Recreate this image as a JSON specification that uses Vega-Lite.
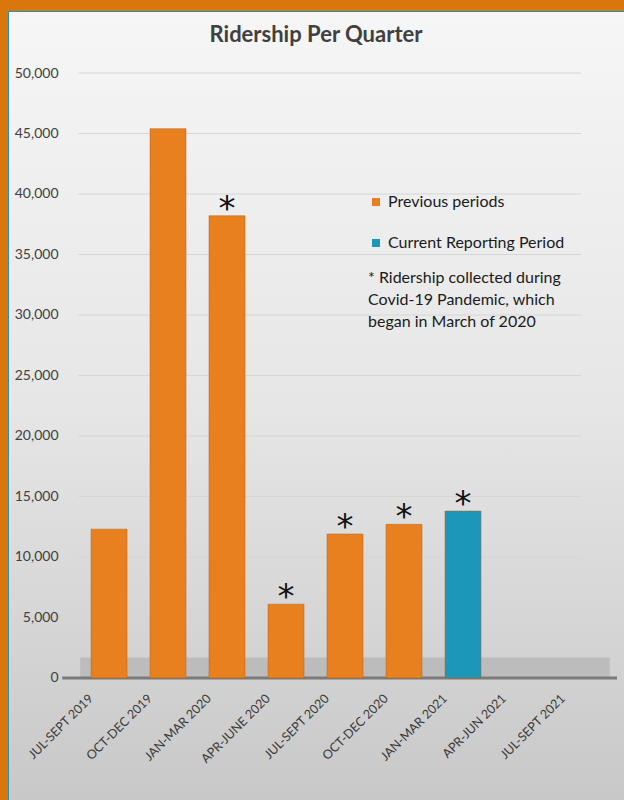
{
  "$schema": "https://vega.github.io/schema/vega-lite/v6.json",
  "width": 616,
  "height": 789,
  "autosize": {"type": "none"},
  "padding": {"left": 8, "top": 11, "right": 0, "bottom": 0},
  "background": "#d9770c",
  "config": {
    "view": {
      "fill": {"gradient": "linear", "x1": 0, "y1": 0, "x2": 0, "y2": 1,
        "stops": [{"offset": 0, "color": "#f6f6f6"}, {"offset": 0.5, "color": "#e6e6e6"}, {"offset": 1, "color": "#c8c8c8"}]},
      "stroke": "#1a97b8",
      "strokeWidth": 1
    },
    "font": "Lato"
  },
  "title": {
    "text": "Ridership Per Quarter",
    "fontSize": 22,
    "font": "Lato",
    "fontWeight": "bold",
    "color": "#404040",
    "anchor": "middle",
    "frame": "group",
    "baseline": "top",
    "offset": -36
  },
  "datasets": {
    "quarters": [
      {"quarter": "JUL-SEPT 2019", "riders": 12300, "period": "Previous periods", "covid": false},
      {"quarter": "OCT-DEC 2019", "riders": 45400, "period": "Previous periods", "covid": false},
      {"quarter": "JAN-MAR 2020", "riders": 38200, "period": "Previous periods", "covid": true},
      {"quarter": "APR-JUNE 2020", "riders": 6100, "period": "Previous periods", "covid": true},
      {"quarter": "JUL-SEPT 2020", "riders": 11900, "period": "Previous periods", "covid": true},
      {"quarter": "OCT-DEC 2020", "riders": 12700, "period": "Previous periods", "covid": true},
      {"quarter": "JAN-MAR 2021", "riders": 13800, "period": "Current Reporting Period", "covid": true}
    ],
    "grid": [
      {"tick": 5000}, {"tick": 10000}, {"tick": 15000}, {"tick": 20000}, {"tick": 25000},
      {"tick": 30000}, {"tick": 35000}, {"tick": 40000}, {"tick": 45000}, {"tick": 50000}
    ],
    "one": [{"floor": "floor"}]
  },
  "layer": [
    {
      "data": {"name": "one"},
      "mark": {"type": "rect", "color": "#bcbcbc"},
      "encoding": {
        "x": {"datum": "JUL-SEPT 2019", "bandPosition": -0.3},
        "x2": {"datum": "JUL-SEPT 2021", "bandPosition": 1.3},
        "y": {"datum": 0},
        "y2": {"datum": 1700}
      }
    },
    {
      "data": {"name": "grid"},
      "mark": {"type": "rule", "color": "#d6d6d6", "strokeWidth": 1},
      "encoding": {
        "x": {"datum": "JUL-SEPT 2019", "bandPosition": -0.35},
        "x2": {"datum": "JUL-SEPT 2021", "bandPosition": 0.5},
        "y": {"field": "tick", "type": "quantitative"}
      }
    },
    {
      "data": {"name": "one"},
      "mark": {"type": "rule", "color": "#7a7a7a", "strokeWidth": 3},
      "encoding": {
        "x": {"datum": "JUL-SEPT 2019", "bandPosition": -0.8},
        "x2": {"datum": "JUL-SEPT 2021", "bandPosition": 1.5},
        "y": {"datum": 0}
      }
    },
    {
      "data": {"name": "quarters"},
      "mark": {"type": "bar", "stroke": "#b8621a", "strokeWidth": 1, "strokeOpacity": 0.5},
      "encoding": {
        "x": {
          "field": "quarter",
          "type": "nominal",
          "sort": null,
          "scale": {
            "domain": ["JUL-SEPT 2019", "OCT-DEC 2019", "JAN-MAR 2020", "APR-JUNE 2020", "JUL-SEPT 2020", "OCT-DEC 2020", "JAN-MAR 2021", "APR-JUN 2021", "JUL-SEPT 2021"],
            "paddingInner": 0.39,
            "paddingOuter": 0.9154,
            "align": 0.7685,
            "round": false
          },
          "axis": {
            "title": null,
            "orient": "bottom",
            "offset": -122,
            "domain": false,
            "ticks": false,
            "labelAngle": -45,
            "labelAlign": "right",
            "labelBaseline": "middle",
            "labelPadding": 18,
            "labelOffset": -18,
            "labelFont": "Lato",
            "labelFontSize": 12.5,
            "labelColor": "#3a3a3a"
          }
        },
        "y": {
          "field": "riders",
          "type": "quantitative",
          "scale": {"domain": [-10083, 55124], "nice": false, "zero": false},
          "axis": {
            "title": null,
            "orient": "left",
            "offset": -54,
            "values": [0, 5000, 10000, 15000, 20000, 25000, 30000, 35000, 40000, 45000, 50000],
            "format": ",.0f",
            "domain": false,
            "ticks": false,
            "grid": false,
            "labelPadding": 4,
            "labelFont": "Lato",
            "labelFontSize": 14,
            "labelColor": "#404040"
          }
        },
        "color": {
          "field": "period",
          "type": "nominal",
          "scale": {"domain": ["Previous periods", "Current Reporting Period"], "range": ["#e8801f", "#1c97b9"]},
          "legend": {
            "orient": "none",
            "legendX": 360,
            "legendY": 183,
            "padding": 0,
            "symbolType": "square",
            "symbolSize": 64,
            "symbolStrokeWidth": 0,
            "labelFont": "Lato",
            "labelFontSize": 16,
            "labelColor": "#1a1a1a",
            "labelOffset": 4,
            "labelLimit": 400,
            "rowPadding": 25,
            "title": ["* Ridership collected during", " Covid-19 Pandemic, which", " began in March of 2020"],
            "titleOrient": "bottom",
            "titleFont": "Lato",
            "titleFontSize": 16,
            "titleFontWeight": "normal",
            "titleColor": "#1a1a1a",
            "titleLineHeight": 22,
            "titlePadding": 19,
            "titleLimit": 400,
            "titleAnchor": "start",
            "titleAlign": "left"
          }
        }
      }
    },
    {
      "data": {"name": "quarters"},
      "transform": [{"filter": "datum.covid"}],
      "mark": {"type": "text", "text": "*", "font": "DejaVu Sans", "fontSize": 34, "baseline": "alphabetic", "dy": 4, "color": "#111111"},
      "encoding": {
        "x": {"field": "quarter", "type": "nominal"},
        "y": {"field": "riders", "type": "quantitative"}
      }
    }
  ]
}
